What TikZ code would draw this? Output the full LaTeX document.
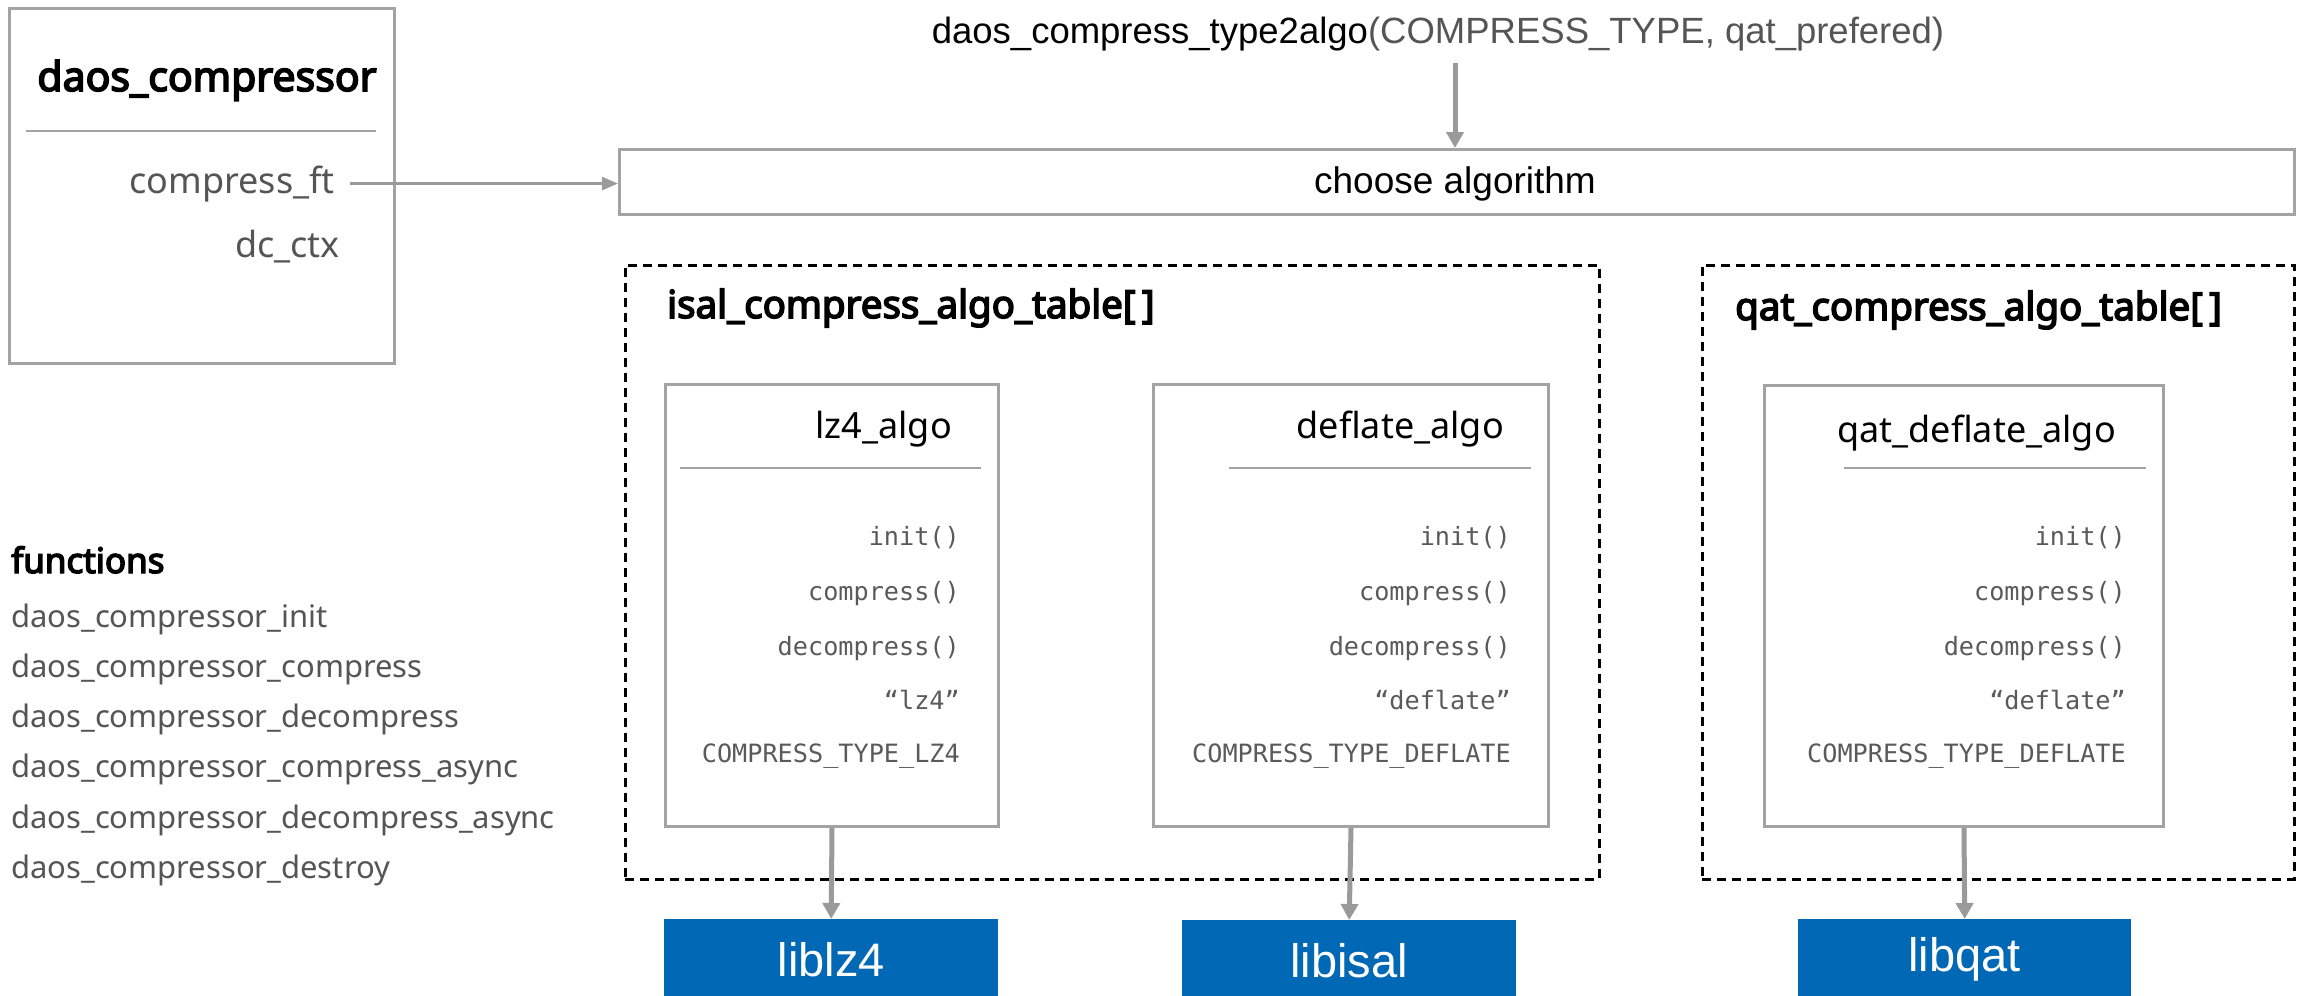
\documentclass[tikz,border=0pt]{standalone}
\usepackage{fontspec}
\setmainfont{Noto Sans}[AutoFakeBold=4]
\newfontfamily\arialf{Liberation Sans}
\newfontfamily\monof{DejaVu Sans Mono}
\usetikzlibrary{arrows.meta}
\definecolor{boxgrey}{HTML}{A3A3A3}
\definecolor{arrgrey}{HTML}{9A9A9A}
\definecolor{txtgrey}{HTML}{555555}
\definecolor{monogrey}{HTML}{5A5A5A}
\definecolor{intelblue}{HTML}{0068B5}
\newcommand\pxsize[1]{\fontsize{#1}{#1}\selectfont}
\tikzset{
  gbox/.style={draw=boxgrey, line width=3pt, fill=white, inner sep=0pt, anchor=north west},
  dbox/.style={draw=black, line width=2.5pt, dash pattern=on 9pt off 6pt, inner sep=0pt, anchor=north west},
  sepline/.style={draw=boxgrey, line width=2pt},
  arr/.style={draw=arrgrey, line width=5pt, -{Triangle[length=16pt,width=17pt]}},
  thinarr/.style={draw=arrgrey, line width=2.5pt, -{Triangle[length=16pt,width=13pt]}},
  libbox/.style={fill=intelblue, text=white, font=\arialf\pxsize{47}, inner sep=0pt,
    minimum height=80pt, anchor=north west},
  monotxt/.style={font=\monof\pxsize{25.2}, text=monogrey, inner sep=0pt, anchor=base east},
  algotitle/.style={font=\pxsize{36}, inner sep=0pt, anchor=base east},
  tabtitle/.style={font=\bfseries\pxsize{38.5}, inner sep=0pt, anchor=base west},
  fnitem/.style={font=\pxsize{31}, text=txtgrey, inner sep=0pt, anchor=base west},
}
\begin{document}
\begin{tikzpicture}[x=1pt,y=-1pt]
\useasboundingbox[fill=white] (0,0) rectangle (2303,996);

% daos_compressor struct
\node[gbox, minimum width=385pt, minimum height=355pt] (dc) at (8,7) {};
\node[font=\bfseries\pxsize{41}, inner sep=0pt, anchor=base] (dctitle) at (207,91) {daos\_compressor};
\draw[sepline] (26,131) -- (376,131);
\node[font=\pxsize{36}, text=txtgrey, inner sep=0pt, anchor=base east] (cft) at (335,193) {compress\_ft};
\node[font=\pxsize{36}, text=txtgrey, inner sep=0pt, anchor=base east] (dcctx) at (340,257) {dc\_ctx};

% functions
\node[font=\bfseries\pxsize{35}, inner sep=0pt, anchor=base west] (fn) at (11,573) {functions};
\node[fnitem] (f1) at (11,627) {daos\_compressor\_init};
\node[fnitem] (f2) at (11,677) {daos\_compressor\_compress};
\node[fnitem] (f3) at (11,727) {daos\_compressor\_decompress};
\node[fnitem] (f4) at (11,777) {daos\_compressor\_compress\_async};
\node[fnitem] (f5) at (11,828) {daos\_compressor\_decompress\_async};
\node[fnitem] (f6) at (11,878) {daos\_compressor\_destroy};

% top call and choose algorithm
\node[font=\arialf\pxsize{36.5}, inner sep=0pt, anchor=base] (call) at (1438,43)
  {daos\_compress\_type2algo{\color{txtgrey}(COMPRESS\_TYPE, qat\_prefered)}};
\node[gbox, minimum width=1675pt, minimum height=65pt] (choose) at (618,148) {};
\node[font=\arialf\pxsize{37}, inner sep=0pt, anchor=base] (chooselbl) at (1455,193) {choose algorithm};

% isal table
\node[dbox, minimum width=974pt, minimum height=614pt] (isal) at (624,264) {};
\node[tabtitle] (isaltitle) at (667,318) {isal\_compress\_algo\_table[\,]};

\node[gbox, minimum width=333pt, minimum height=442pt] (lz4) at (664,383) {};
\node[algotitle] (lz4t) at (952,438) {lz4\_algo};
\draw[sepline] (680,468) -- (981,468);
\node[monotxt] (lz4a) at (960,545) {init()};
\node[monotxt] (lz4b) at (960,600) {compress()};
\node[monotxt] (lz4c) at (960,655) {decompress()};
\node[monotxt] (lz4d) at (960,709) {“lz4”};
\node[monotxt] (lz4e) at (960,762) {COMPRESS\_TYPE\_LZ4};

\node[gbox, minimum width=395pt, minimum height=442pt] (defl) at (1152,383) {};
\node[algotitle] (deflt) at (1504,438) {deflate\_algo};
\draw[sepline] (1229,468) -- (1531,468);
\node[monotxt] (defla) at (1511,545) {init()};
\node[monotxt] (deflb) at (1511,600) {compress()};
\node[monotxt] (deflc) at (1511,655) {decompress()};
\node[monotxt] (defld) at (1511,709) {“deflate”};
\node[monotxt] (defle) at (1511,762) {COMPRESS\_TYPE\_DEFLATE};

% qat table
\node[dbox, minimum width=592pt, minimum height=614pt] (qat) at (1701,264) {};
\node[tabtitle] (qattitle) at (1735,320) {qat\_compress\_algo\_table[\,]};

\node[gbox, minimum width=399pt, minimum height=441pt] (qdefl) at (1763,384) {};
\node[algotitle] (qdeflt) at (2116,442) {qat\_deflate\_algo};
\draw[sepline] (1844,468) -- (2146,468);
\node[monotxt] (qdefla) at (2126,545) {init()};
\node[monotxt] (qdeflb) at (2126,600) {compress()};
\node[monotxt] (qdeflc) at (2126,655) {decompress()};
\node[monotxt] (qdefld) at (2126,709) {“deflate”};
\node[monotxt] (qdefle) at (2126,762) {COMPRESS\_TYPE\_DEFLATE};

% libraries
\node[libbox, minimum width=334pt] (liblz4) at (664,919) {liblz4};
\node[libbox, minimum width=334pt] (libisal) at (1182,920) {libisal};
\node[libbox, minimum width=333pt] (libqat) at (1798,919) {libqat};

% connectors
\draw[thinarr, shorten <=15pt] (cft.east) -- (choose.west |- cft.east);
\draw[arr, shorten <=12pt] (call.south -| chooselbl) -- (choose.north -| chooselbl);
\draw[arr] (lz4.south) -- (liblz4.north);
\draw[arr] (defl.south) -- (libisal.north);
\draw[arr] (qdefl.south) -- (libqat.north);
\end{tikzpicture}
\end{document}
